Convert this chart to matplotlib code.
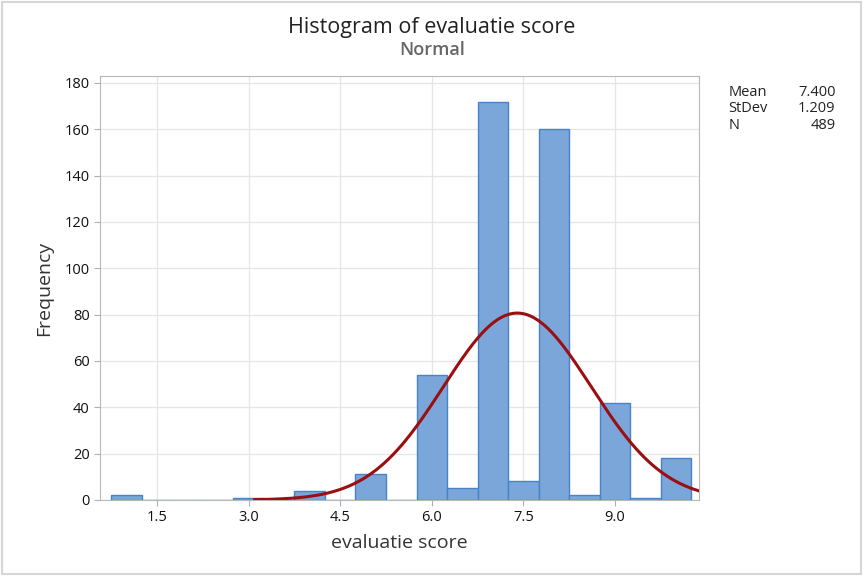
import numpy as np
import matplotlib
matplotlib.use("Agg")
import matplotlib.pyplot as plt
from matplotlib.patches import Rectangle

plt.rcParams['font.family'] = ['Open Sans', 'DejaVu Sans']

# bin centres (width 0.5) and counts
bin_centers = [1.0, 1.5, 2.0, 2.5, 3.0, 3.5, 4.0, 4.5, 5.0, 5.5, 6.0, 6.5,
               7.0, 7.5, 8.0, 8.5, 9.0, 9.5, 10.0]
counts = [2, 0, 0, 0, 1, 0, 4, 0, 11, 0, 54, 5,
          172, 8, 160, 2, 42, 1, 18]
bin_width = 0.5

mean = 7.400
stdev = 1.209
n_obs = 489

x_ticks = [1.5, 3.0, 4.5, 6.0, 7.5, 9.0]
y_ticks = [0, 20, 40, 60, 80, 100, 120, 140, 160, 180]

fig = plt.figure(figsize=(8.64, 5.76), dpi=100)
ax = fig.add_axes([0.1157, 0.132, 0.6933, 0.736])

ax.set_axisbelow(True)
ax.grid(True, color='#e6e6e6', linewidth=0.9)

ax.bar(bin_centers, counts, width=bin_width, color='#7aa6da',
       edgecolor='#4a82c8', linewidth=1.0, zorder=2)

xs = np.linspace(3.1, 10.4, 300)
pdf = n_obs * bin_width / (stdev * np.sqrt(2 * np.pi)) * np.exp(-0.5 * ((xs - mean) / stdev) ** 2)
ax.plot(xs, pdf, color='#9a0f0f', linewidth=2.2, zorder=3)

ax.set_xlim(0.567, 10.375)
ax.set_ylim(0, 183)
ax.set_xticks(x_ticks)
ax.set_xticklabels([f"{t:.1f}" for t in x_ticks])
ax.set_yticks(y_ticks)
ax.tick_params(axis='both', colors='#b0b0b0', labelcolor='#111111',
               labelsize=10.5, length=4)

for s in ax.spines.values():
    s.set_color('#b8b8b8')

ax.set_xlabel("evaluatie score", fontsize=14, color='#333333', labelpad=6,
              fontweight='medium')
ax.set_ylabel("Frequency", fontsize=14, color='#333333', labelpad=8,
              fontweight='medium')

fig.text(0.5, 0.953, "Histogram of evaluatie score", ha='center', va='center',
         fontsize=15.5, color='#222222', fontweight='medium')
fig.text(0.5, 0.913, "Normal", ha='center', va='center',
         fontsize=13, color='#666666', fontweight='semibold')

# stats box
fig.text(0.843, 0.840, "Mean", fontsize=10.5, color='#222222', va='center')
fig.text(0.843, 0.811, "StDev", fontsize=10.5, color='#222222', va='center')
fig.text(0.843, 0.782, "N", fontsize=10.5, color='#222222', va='center')
fig.text(0.967, 0.840, f"{mean:.3f}", fontsize=10.5, color='#222222', va='center', ha='right')
fig.text(0.967, 0.811, f"{stdev:.3f}", fontsize=10.5, color='#222222', va='center', ha='right')
fig.text(0.967, 0.782, f"{n_obs}", fontsize=10.5, color='#222222', va='center', ha='right')

# outer frame
fig.patches.append(Rectangle((0.002, 0.003), 0.994, 0.994, transform=fig.transFigure,
                             fill=False, edgecolor='#d6d6d6', linewidth=1.5))

fig.savefig("out.png", dpi=100)
